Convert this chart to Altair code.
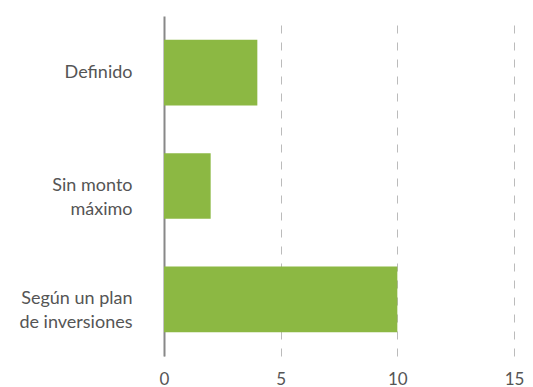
import altair as alt
import pandas as pd

categories = ["Definido", "Sin monto\nmáximo", "Según un plan\nde inversiones"]
values = [4, 2, 10]
x_ticks = [0, 5, 10, 15]

df = pd.DataFrame({"cat": categories, "val": values})

FONT = "Lato"
TXT = "#555555"

chart = alt.Chart(df).mark_bar(color="#8CB843").encode(
    x=alt.X("val:Q",
            scale=alt.Scale(domain=[0, 15], nice=False),
            axis=alt.Axis(values=x_ticks, title=None, domain=False, ticks=False,
                          grid=True, gridDash=[8, 9], gridColor="#BBBBBB", gridWidth=1,
                          labelFont=FONT, labelFontSize=17, labelColor=TXT,
                          labelPadding=15, labelFlush=False)),
    y=alt.Y("cat:N", sort=None,
            scale=alt.Scale(paddingInner=0.42, paddingOuter=0.21),
            axis=alt.Axis(title=None, domain=True, domainColor="#888888", domainWidth=2,
                          ticks=False, grid=False,
                          labelExpr="split(datum.label, '\\n')",
                          labelFont=FONT, labelFontSize=18, labelColor=TXT,
                          labelLineHeight=24, labelPadding=32, labelLimit=300)),
).properties(
    width=350, height=340,
    autosize=alt.AutoSizeParams(type="none"),
    padding={"left": 156, "top": 8, "right": 11, "bottom": 31},
).configure_view(stroke=None)

chart.save("out.html", embed_options={"renderer": "svg", "actions": False})
